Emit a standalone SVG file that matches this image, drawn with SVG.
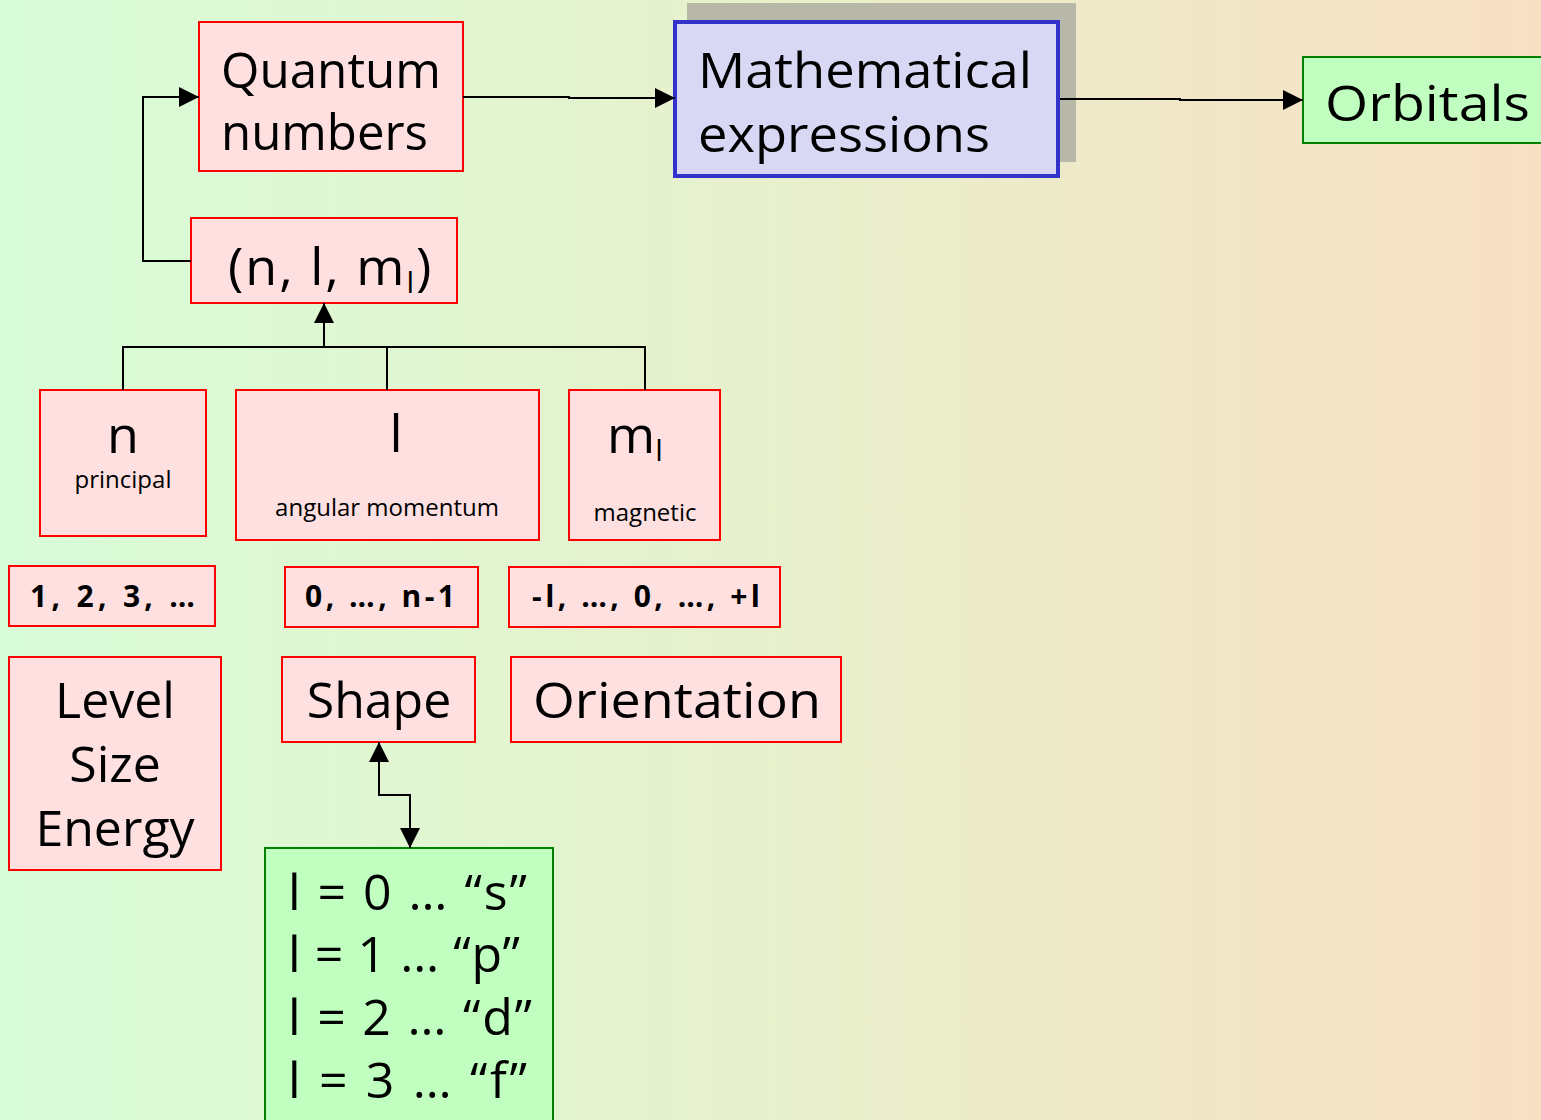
<svg xmlns="http://www.w3.org/2000/svg" width="1541" height="1120" viewBox="0 0 1541 1120">
<defs>
<linearGradient id="bg" x1="0" y1="0" x2="1" y2="0">
<stop offset="0" stop-color="#d8fcd8"/>
<stop offset="0.5" stop-color="#e8f0cc"/>
<stop offset="1" stop-color="#f8e0c4"/>
</linearGradient>
<marker id="ahl" viewBox="0 0 20 20" refX="20" refY="10" markerWidth="20" markerHeight="20" markerUnits="userSpaceOnUse" orient="auto-start-reverse">
<path d="M0,0 L20,10 L0,20 z" fill="#000"/>
</marker>
</defs>
<style>
.pink{fill:#ffe0e0;stroke:#ff0000;stroke-width:2}
.green{fill:#c0ffc0;stroke:#008000;stroke-width:2}
.blue{fill:#d8d8f4;stroke:#3333cc;stroke-width:4}
text{font-family:"Comic Sans MS","Open Sans","DejaVu Sans",sans-serif;fill:#000}
.big{font-size:50px}
.mid{font-size:52px}
.sm{font-size:24px}
.val{font-size:30px;font-weight:bold}
.c{text-anchor:middle}
.conn{fill:none;stroke:#000;stroke-width:2}
</style>
<rect width="1541" height="1120" fill="url(#bg)"/>
<g id="quantum">
<rect class="pink" x="199" y="22" width="264" height="149"/>
<text class="big" x="221" y="88" textLength="220" lengthAdjust="spacingAndGlyphs">Quantum</text>
<text class="big" x="221" y="150" textLength="207" lengthAdjust="spacingAndGlyphs">numbers</text>
</g>
<g id="math">
<rect x="687" y="3" width="389" height="159" fill="#b8b8a8"/>
<rect class="blue" x="675" y="22" width="383" height="154"/>
<text class="big" x="698" y="88" textLength="334" lengthAdjust="spacingAndGlyphs">Mathematical</text>
<text class="big" x="698" y="152" textLength="292" lengthAdjust="spacingAndGlyphs">expressions</text>
</g>
<g id="orbitals">
<rect class="green" x="1303" y="57" width="245" height="86"/>
<text class="big" x="1325" y="121" textLength="205" lengthAdjust="spacingAndGlyphs">Orbitals</text>
</g>
<g id="nlm">
<rect class="pink" x="191" y="218" width="266" height="85"/>
<text class="mid" x="228" y="285" letter-spacing="2">(n, l, m<tspan font-size="30" dy="8">l</tspan><tspan dy="-8">)</tspan></text>
</g>
<g id="n">
<rect class="pink" x="40" y="390" width="166" height="146"/>
<text class="mid c" x="123" y="453">n</text>
<text class="sm c" x="123" y="488">principal</text>
</g>
<g id="l">
<rect class="pink" x="236" y="390" width="303" height="150"/>
<text class="mid c" x="396" y="452">l</text>
<text class="sm c" x="387" y="516">angular momentum</text>
</g>
<g id="ml">
<rect class="pink" x="569" y="390" width="151" height="150"/>
<text class="mid" x="607" y="453">m<tspan font-size="30" dy="8">l</tspan></text>
<text class="sm c" x="645" y="521">magnetic</text>
</g>
<g id="nvals">
<rect class="pink" x="9" y="566" width="206" height="60"/>
<text class="val" x="30" y="607" textLength="165" lengthAdjust="spacing">1, 2, 3, …</text>
</g>
<g id="lvals">
<rect class="pink" x="285" y="567" width="193" height="60"/>
<text class="val" x="305" y="607" textLength="150" lengthAdjust="spacing">0, …, n-1</text>
</g>
<g id="mlvals">
<rect class="pink" x="509" y="567" width="271" height="60"/>
<text class="val" x="532" y="607" textLength="228" lengthAdjust="spacing">-l, …, 0, …, +l</text>
</g>
<g id="level">
<rect class="pink" x="9" y="657" width="212" height="213"/>
<text class="big c" x="115" y="718">Level</text>
<text class="big c" x="115" y="782">Size</text>
<text class="big c" x="115" y="846">Energy</text>
</g>
<g id="shape">
<rect class="pink" x="282" y="657" width="193" height="85"/>
<text class="big c" x="379" y="718">Shape</text>
</g>
<g id="orientation">
<rect class="pink" x="511" y="657" width="330" height="85"/>
<text class="big c" x="677" y="718" textLength="288" lengthAdjust="spacingAndGlyphs">Orientation</text>
</g>
<g id="lletters">
<rect class="green" x="265" y="848" width="288" height="290"/>
<text class="big" x="288" y="910" textLength="239" lengthAdjust="spacing">l = 0 … “s”</text>
<text class="big" x="288" y="972" textLength="232" lengthAdjust="spacing">l = 1 … “p”</text>
<text class="big" x="288" y="1035" textLength="244" lengthAdjust="spacing">l = 2 … “d”</text>
<text class="big" x="288" y="1098" textLength="239" lengthAdjust="spacing">l = 3 … “f”</text>
</g>
<g id="connectors">
<path class="conn" d="M191,261 H143 V97 H199" marker-end="url(#ahl)"/>
<path class="conn" d="M463,97 H569 V98 H675" marker-end="url(#ahl)"/>
<path class="conn" d="M1060,99 H1180 V100 H1303" marker-end="url(#ahl)"/>
<path class="conn" d="M123,390 V347 H645 V390"/>
<path class="conn" d="M387,390 V347"/>
<path class="conn" d="M324,347 V303" marker-end="url(#ahl)"/>
<path class="conn" d="M379,742 V795 H410 V848" marker-start="url(#ahl)" marker-end="url(#ahl)"/>
</g>
</svg>
